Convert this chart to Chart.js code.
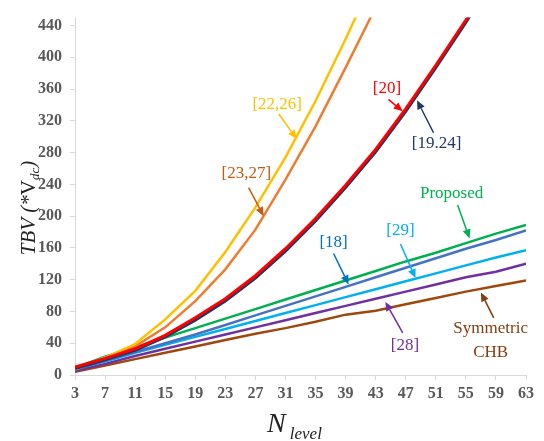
<!DOCTYPE html>
<html>
<head>
<meta charset="utf-8">
<script src="https://cdn.jsdelivr.net/npm/chart.js@4.4.1/dist/chart.umd.min.js"></script>
<style>
  html, body { margin: 0; padding: 0; background: #fff; }
  #wrap { width: 544px; height: 441px; }
</style>
</head>
<body>
<div id="wrap"><canvas id="tbvChart" width="544" height="441"></canvas></div>
<script>
// number of levels (x axis)
const nLevels = [3, 7, 11, 15, 19, 23, 27, 31, 35, 39, 43, 47, 51, 55, 59, 63];

// TBV values (x Vdc)
const tbvRef20 = [10, 21, 33, 50, 72, 96, 125, 159, 197, 239, 284, 335, 390, 447, 508, null];
const tbvRef1924 = [8, 19, 31, 48, 69, 93, 122, 156, 194, 236, 281, 332, 387, 444, 505, null];
const tbvRef2226 = [7, 22, 39, 70, 106, 155, 211, 274, 345, 423, 505, null, null, null, null, null];
const tbvRef2327 = [7, 21, 36, 60, 93, 133, 183, 246, 313, 387, 463, null, null, null, null, null];
const tbvProposed = [9, 23, 35, 47, 59, 71, 83, 95, 107, 119, 131, 143, 154, 166, 178, 189];
const tbvRef18 = [7, 18, 29, 40, 51, 63, 75, 87, 99, 111, 123, 135, 147, 159, 170, 182];
const tbvRef29 = [8, 17, 28, 38, 48, 58, 68, 78, 88, 98, 108, 118, 128, 138, 148, 157];
const tbvRef28 = [5, 14, 24, 33, 42, 51, 60, 69, 78, 87, 96, 105, 114, 123, 130, 140];
const tbvSymCHB = [4, 12, 20, 28, 36, 44, 52, 59, 67, 76, 81, 89, 97, 105, 112, 119];

const yTicks = [0, 40, 80, 120, 160, 200, 240, 280, 320, 360, 400, 440];

// callouts: text, colour, text centre, arrow start and arrow tip, all in data units
const callouts = [
  { text: ["[22,26]"], color: "#FFC000", at: [29.9, 340], from: [30.1, 329], to: [32.5, 297] },
  { text: ["[23,27]"], color: "#C55A11", at: [25.8, 254], from: [26.1, 236], to: [28.1, 200] },
  { text: ["[20]"], color: "#FF0000", at: [44.5, 361], from: [44.7, 347], to: [46.6, 332] },
  { text: ["[19.24]"], color: "#1F3864", at: [51.1, 292], from: [50.7, 305], to: [48.5, 346] },
  { text: ["Proposed"], color: "#00B050", at: [53.1, 228], from: [53.9, 214], to: [55.5, 172] },
  { text: ["[18]"], color: "#0070C0", at: [37.4, 167], from: [37.4, 153], to: [39.4, 114] },
  { text: ["[29]"], color: "#00B0F0", at: [46.3, 182], from: [46.3, 165], to: [48.3, 122] },
  { text: ["[28]"], color: "#7030A0", at: [46.9, 37], from: [46.6, 53], to: [44.3, 92] },
  { text: ["Symmetric", "CHB"], color: "#843C0C", at: [58.3, 43], from: [58.7, 72], to: [57.0, 104] }
];

function series(values) {
  return nLevels.map((n, i) => ({ x: n, y: values[i] }));
}

function line(label, values, color, width) {
  return {
    label: label,
    data: series(values),
    borderColor: color,
    backgroundColor: color,
    borderWidth: width,
    pointRadius: 0,
    tension: 0,
    fill: false
  };
}

function drawArrow(ctx, x1, y1, x2, y2, color) {
  const ang = Math.atan2(y2 - y1, x2 - x1);
  const head = 9, half = 4;
  const bx = x2 - Math.cos(ang) * head;
  const by = y2 - Math.sin(ang) * head;
  ctx.strokeStyle = color;
  ctx.fillStyle = color;
  ctx.lineWidth = 1.5;
  ctx.beginPath();
  ctx.moveTo(x1, y1);
  ctx.lineTo(bx, by);
  ctx.stroke();
  ctx.beginPath();
  ctx.moveTo(x2, y2);
  ctx.lineTo(bx + Math.sin(ang) * half, by - Math.cos(ang) * half);
  ctx.lineTo(bx - Math.sin(ang) * half, by + Math.cos(ang) * half);
  ctx.closePath();
  ctx.fill();
}

const calloutPlugin = {
  id: "callouts",
  afterDatasetsDraw(chart) {
    const ctx = chart.ctx;
    const xs = chart.scales.x, ys = chart.scales.y;
    ctx.save();
    ctx.font = '17px "Liberation Serif", "Times New Roman", serif';
    ctx.textAlign = "center";
    ctx.textBaseline = "middle";
    callouts.forEach(c => {
      const tx = xs.getPixelForValue(c.at[0]);
      const ty = ys.getPixelForValue(c.at[1]);
      ctx.fillStyle = c.color;
      const lh = 24;
      c.text.forEach((t, i) => {
        ctx.fillText(t, tx, ty + (i - (c.text.length - 1) / 2) * lh);
      });
      drawArrow(ctx,
        xs.getPixelForValue(c.from[0]), ys.getPixelForValue(c.from[1]),
        xs.getPixelForValue(c.to[0]), ys.getPixelForValue(c.to[1]), c.color);
    });
    ctx.restore();
  }
};

const axisTitlePlugin = {
  id: "axisTitles",
  afterDraw(chart) {
    const ctx = chart.ctx;
    const area = chart.chartArea;
    ctx.save();
    ctx.fillStyle = "#222";
    ctx.textBaseline = "alphabetic";
    ctx.textAlign = "left";

    // y title: TBV (*V_dc), rotated
    const parts = [
      { t: "TBV (*", f: 'italic 21px "Liberation Serif", serif', dy: 0 },
      { t: "V", f: '21px "Liberation Serif", serif', dy: 0 },
      { t: "dc", f: 'italic 13px "Liberation Serif", serif', dy: 4 },
      { t: ")", f: 'italic 21px "Liberation Serif", serif', dy: 0 }
    ];
    let total = 0;
    parts.forEach(p => { ctx.font = p.f; p.w = ctx.measureText(p.t).width; total += p.w; });
    ctx.translate(area.left - 40, 208);
    ctx.rotate(-Math.PI / 2);
    let x = -total / 2;
    parts.forEach(p => {
      ctx.font = p.f;
      ctx.fillText(p.t, x, p.dy);
      x += p.w;
    });
    ctx.setTransform(1, 0, 0, 1, 0, 0);

    // x title: N_level
    ctx.font = 'italic 28px "Liberation Serif", serif';
    const wN = ctx.measureText("N").width;
    ctx.font = 'italic 17px "Liberation Serif", serif';
    const wL = ctx.measureText("level").width;
    const cx = (area.left + area.right) / 2 - 6;
    const startX = cx - (wN + 4 + wL) / 2;
    ctx.font = 'italic 28px "Liberation Serif", serif';
    ctx.fillText("N", startX, 432);
    ctx.font = 'italic 17px "Liberation Serif", serif';
    ctx.fillText("level", startX + wN + 4, 439);
    ctx.restore();
  }
};

const tickFont = { family: '"Liberation Serif", "Times New Roman", serif', size: 16, weight: "bold" };

new Chart(document.getElementById("tbvChart"), {
  type: "line",
  data: {
    datasets: [
      line("[20]", tbvRef20, "#FF0000", 3),
      line("[19.24]", tbvRef1924, "#1F3864", 3),
      line("[22,26]", tbvRef2226, "#FFC000", 2.5),
      line("[23,27]", tbvRef2327, "#ED7D31", 2.5),
      line("Proposed", tbvProposed, "#00B050", 2.5),
      line("[18]", tbvRef18, "#4472C4", 2.5),
      line("[29]", tbvRef29, "#00B0F0", 2.5),
      line("[28]", tbvRef28, "#7030A0", 2.5),
      line("Symmetric CHB", tbvSymCHB, "#9E480E", 2.5)
    ]
  },
  options: {
    responsive: false,
    animation: false,
    layout: { padding: { left: 0, top: 11, right: 18, bottom: 0 } },
    plugins: { legend: { display: false }, tooltip: { enabled: false } },
    scales: {
      x: {
        type: "linear",
        min: nLevels[0],
        max: nLevels[nLevels.length - 1],
        afterBuildTicks: s => { s.ticks = nLevels.map(v => ({ value: v })); },
        afterFit: s => { s.height = 66; },
        grid: { drawOnChartArea: false, drawTicks: true, tickLength: 5, color: "#D9D9D9" },
        border: { color: "#D9D9D9", width: 1 },
        ticks: { font: tickFont, color: "#595959", padding: 4, maxRotation: 0, autoSkip: false }
      },
      y: {
        min: 0,
        max: 450,
        afterBuildTicks: s => { s.ticks = yTicks.map(v => ({ value: v })); },
        afterFit: s => { s.width = 75; },
        grid: { drawOnChartArea: false, drawTicks: true, tickLength: 5, color: "#D9D9D9" },
        border: { color: "#D9D9D9", width: 1 },
        ticks: { font: tickFont, color: "#595959", padding: 8 }
      }
    }
  },
  plugins: [calloutPlugin, axisTitlePlugin]
});
</script>
</body>
</html>
